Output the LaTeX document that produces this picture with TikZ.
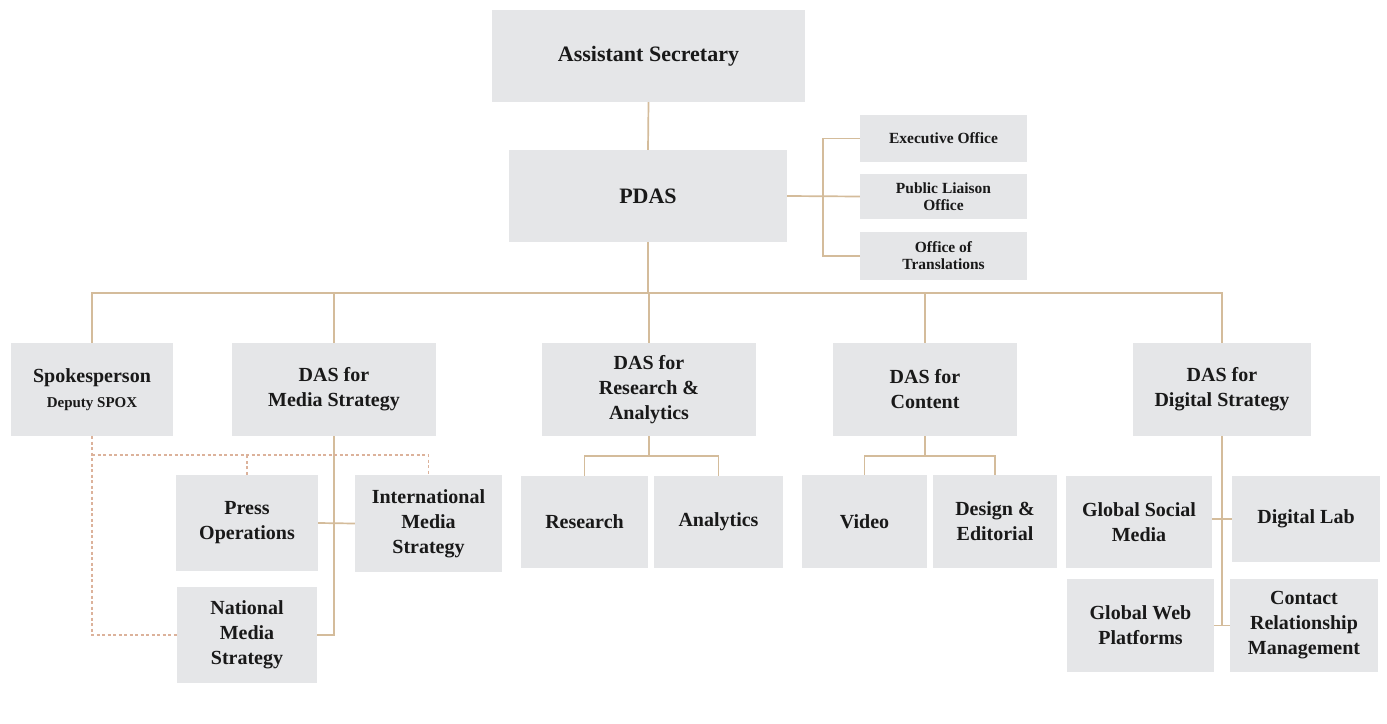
\documentclass[tikz,border=0pt]{standalone}
\usepackage{fontspec}
\setmainfont{Liberation Serif}
\definecolor{boxfill}{RGB}{229,230,232}
\definecolor{tan}{RGB}{212,188,155}
\definecolor{dtan}{RGB}{220,178,155}
\definecolor{txt}{RGB}{25,25,25}
\begin{document}
\begin{tikzpicture}[x=1pt,y=-1pt,
  box/.style={fill=boxfill, draw=none, align=center, text=txt, inner sep=0pt,
    font=\bfseries\fontsize{20}{25}\selectfont},
  bigbox/.style={box, font=\bfseries\fontsize{22}{26}\selectfont},
  smallbox/.style={box, font=\bfseries\fontsize{15.5}{17}\selectfont},
  conn/.style={draw=tan, line width=1.7pt},
  dconn/.style={draw=dtan, line width=1.2pt, dash pattern=on 3pt off 2.5pt}]
\useasboundingbox (0,0) rectangle (1387,723);
% top
\node[bigbox, minimum width=313, minimum height=92] (as) at (648.5,56) {Assistant Secretary};
\node[bigbox, minimum width=278, minimum height=92] (pdas) at (648,196) {PDAS};
\node[smallbox, minimum width=167, minimum height=47] (exec) at (943.5,138.5) {Executive Office};
\node[smallbox, minimum width=167, minimum height=45] (pub) at (943.5,196.5) {Public Liaison\\Office};
\node[smallbox, minimum width=167, minimum height=48] (trans) at (943.5,256) {Office of\\Translations};
% DAS row
\node[box, minimum width=162, minimum height=93] (spk) at (92,389.5) {Spokesperson\\{\fontsize{15}{17}\selectfont Deputy SPOX}};
\node[box, minimum width=204, minimum height=93] (media) at (334,389.5) {DAS for\\Media Strategy};
\node[box, minimum width=214, minimum height=93] (research) at (649,389.5) {DAS for\\Research \&\\Analytics};
\node[box, minimum width=184, minimum height=93] (content) at (925,389.5) {DAS for\\Content};
\node[box, minimum width=178, minimum height=93] (digital) at (1222,389.5) {DAS for\\Digital Strategy};
% media children
\node[box, minimum width=142, minimum height=96] (press) at (247,523) {Press\\Operations};
\node[box, minimum width=147, minimum height=97] (intl) at (428.5,523.5) {International\\Media\\Strategy};
\node[box, minimum width=140, minimum height=96] (natl) at (247,635) {National\\Media\\Strategy};
% research children
\node[box, minimum width=127, minimum height=92] (res) at (584.5,522) {Research};
\node[box, minimum width=129, minimum height=92] (ana) at (718.5,522) {Analytics};
% content children
\node[box, minimum width=125, minimum height=93] (video) at (864.5,521.5) {Video};
\node[box, minimum width=124, minimum height=93] (design) at (995,521.5) {Design \&\\Editorial};
% digital children
\node[box, minimum width=146, minimum height=92] (gsm) at (1139,522) {Global Social\\Media};
\node[box, minimum width=148, minimum height=86] (dlab) at (1306,519) {Digital Lab};
\node[box, minimum width=147, minimum height=93] (gweb) at (1140.5,625.5) {Global Web\\Platforms};
\node[box, minimum width=148, minimum height=93] (crm) at (1304,625.5) {Contact\\Relationship\\Management};
% coordinates
\coordinate (rj) at (823,196.5);
\coordinate (bus) at (648,293);
\coordinate (dj) at (0,455);
\coordinate (rj2) at (649,456);
\coordinate (cj) at (925,456);
\coordinate (gj) at (1222,625.5);
% connectors
\draw[conn] (as.south) -- (pdas.north);
\draw[conn] (pdas.east) -- (pub.west);
\draw[conn] (exec.west) -| (rj) |- (trans.west);
\draw[conn] (pdas.south) -- (bus);
\draw[conn] (spk.north) |- (bus) -| (digital.north);
\draw[conn] (media.north) -- (media.north |- bus);
\draw[conn] (research.north) -- (research.north |- bus);
\draw[conn] (content.north) -- (content.north |- bus);
% media
\draw[conn] (media.south) |- (natl.east);
\draw[conn] (press.east) -- (intl.west);
\draw[dconn] (spk.south) |- (natl.west);
\draw[dconn] (spk.south |- dj) -| (intl.north);
\draw[dconn] (press.north) -- (press.north |- dj);
% research
\draw[conn] (research.south) -- (rj2);
\draw[conn] (res.north) |- (rj2) -| (ana.north);
% content
\draw[conn] (content.south) -- (cj);
\draw[conn] (video.north) |- (cj) -| (design.north);
% digital
\draw[conn] (digital.south) -- (gj);
\draw[conn] (gweb.east) -- (crm.west);
\draw[conn] (gsm.east |- dlab.west) -- (dlab.west);
\end{tikzpicture}
\end{document}
